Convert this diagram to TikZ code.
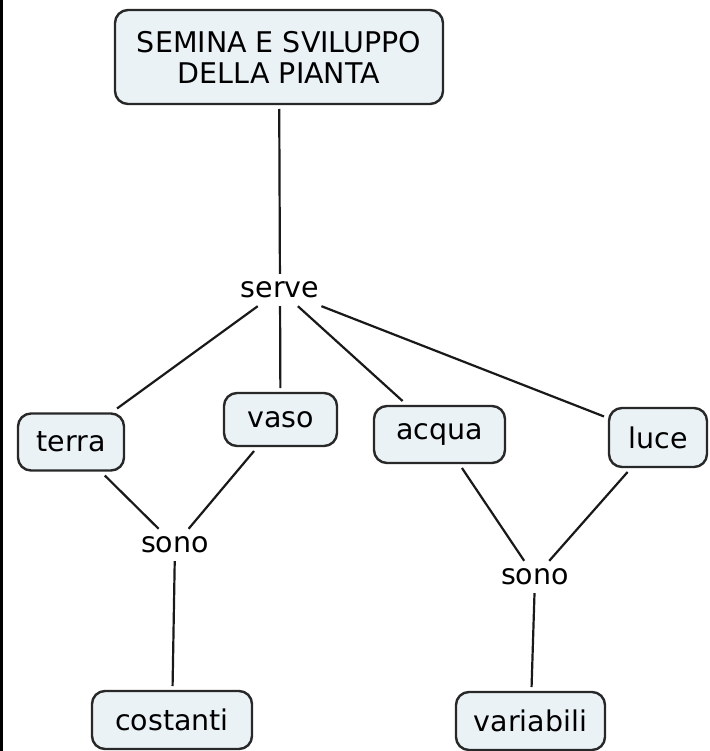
\documentclass[tikz,border=0pt]{standalone}
\usepackage{fontspec}
\setmainfont{DejaVu Sans}
\definecolor{boxfill}{RGB}{234,242,246}
\definecolor{boxline}{RGB}{40,40,40}
\definecolor{lineclr}{RGB}{25,25,25}
\begin{document}
\begin{tikzpicture}[x=1pt,y=-1pt,
  box/.style={draw=boxline, fill=boxfill, line width=2.4pt, rounded corners=13pt,
              inner sep=0pt, outer sep=5pt, font=\fontsize{28.5}{31}\selectfont},
  lbl/.style={inner sep=2pt, outer sep=6pt, font=\fontsize{28.5}{31}\selectfont},
  conn/.style={draw=lineclr, line width=2.2pt}]
\useasboundingbox (0,0) rectangle (709,751);
\fill[white] (0,0) rectangle (709,751);
\fill[black] (0,0) rectangle (3,751);

\node[box, minimum width=328pt, minimum height=94pt, align=center] (main) at (279,57)
  {SEMINA E SVILUPPO\\DELLA PIANTA};
\node[lbl] (serve) at (280,290) {serve};
\node[box, minimum width=106pt, minimum height=57pt] (terra) at (71,442) {terra};
\node[box, minimum width=113pt, minimum height=53pt] (vaso) at (280.5,419.5) {vaso};
\node[box, minimum width=131pt, minimum height=57pt] (acqua) at (439.5,434.5) {acqua};
\node[box, minimum width=98pt, minimum height=59pt] (luce) at (658,437.5) {luce};
\node[lbl] (sono1) at (175,545) {sono};
\node[lbl] (sono2) at (535,577) {sono};
\node[box, minimum width=160pt, minimum height=58pt] (costanti) at (172,720) {costanti};
\node[box, minimum width=149pt, minimum height=58pt] (variabili) at (530.5,721) {variabili};

\draw[conn] (main) -- (serve);
\draw[conn] (serve) -- (terra);
\draw[conn] (serve) -- (vaso);
\draw[conn] (serve) -- (acqua);
\draw[conn] (serve) -- (luce);
\draw[conn] (terra) -- (sono1);
\draw[conn] (vaso) -- (sono1);
\draw[conn] (sono1) -- (costanti);
\draw[conn] (acqua) -- (sono2);
\draw[conn] (luce) -- (sono2);
\draw[conn] (sono2) -- (variabili);
\end{tikzpicture}
\end{document}
